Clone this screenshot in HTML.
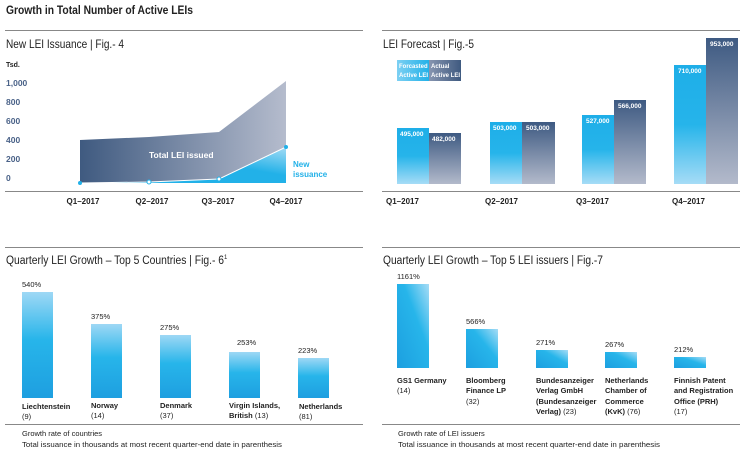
<!DOCTYPE html>
<html><head><meta charset="utf-8"><style>
body{margin:0;width:750px;height:457px;background:#fff;overflow:hidden}
svg{display:block;font-family:"Liberation Sans",sans-serif}
.b{font-weight:bold}
</style></head><body>
<svg width="750" height="457" viewBox="0 0 750 457">
<defs>
<linearGradient id="dark" x1="0" y1="0" x2="1" y2="0"><stop offset="0" stop-color="#3f5a80"/><stop offset="1" stop-color="#b5bccd"/></linearGradient>
<linearGradient id="newg" x1="0" y1="1" x2="1" y2="0"><stop offset="0.6" stop-color="#22b1e8"/><stop offset="1" stop-color="#a4dcf5"/></linearGradient>
<linearGradient id="fc" x1="0" y1="0" x2="0" y2="1"><stop offset="0" stop-color="#1eaee8"/><stop offset="0.5" stop-color="#26b4ea"/><stop offset="1" stop-color="#a6dcf6"/></linearGradient>
<linearGradient id="ac" x1="0" y1="0" x2="0" y2="1"><stop offset="0" stop-color="#3e5a82"/><stop offset="1" stop-color="#b3bacb"/></linearGradient>
<linearGradient id="cb" x1="0" y1="0" x2="0" y2="1"><stop offset="0" stop-color="#9ed8f5"/><stop offset="0.45" stop-color="#27b5ea"/><stop offset="1" stop-color="#1e9fe0"/></linearGradient>
<linearGradient id="ib" x1="0" y1="1" x2="1" y2="0"><stop offset="0" stop-color="#1c9fe0"/><stop offset="0.6" stop-color="#27b5ea"/><stop offset="1" stop-color="#a6dcf6"/></linearGradient>
<linearGradient id="lg" x1="0" y1="0" x2="1" y2="0"><stop offset="0" stop-color="#7dd0f3"/><stop offset="0.5" stop-color="#22b1e8"/><stop offset="0.5" stop-color="#8795b0"/><stop offset="1" stop-color="#3f5a80"/></linearGradient>
</defs>
<text x="6" y="14" class="b" font-size="11.5" fill="#222" textLength="187" lengthAdjust="spacingAndGlyphs">Growth in Total Number of Active LEIs</text>
<g stroke="#888" stroke-width="1">
<line x1="5" y1="30.5" x2="363" y2="30.5"/><line x1="382" y1="30.5" x2="740" y2="30.5"/>
<line x1="5" y1="191.5" x2="363" y2="191.5"/><line x1="382" y1="191.5" x2="740" y2="191.5"/>
<line x1="5" y1="247.5" x2="363" y2="247.5"/><line x1="382" y1="247.5" x2="740" y2="247.5"/>
<line x1="5" y1="424.5" x2="363" y2="424.5"/><line x1="382" y1="424.5" x2="740" y2="424.5"/>
</g>
<text x="6" y="48" font-size="12" fill="#222" textLength="118" lengthAdjust="spacingAndGlyphs">New LEI Issuance  |  Fig.- 4</text>
<text x="6" y="67" class="b" font-size="7" fill="#222">Tsd.</text>
<g class="b" font-size="8.5" fill="#4a6288">
<text x="6" y="86">1,000</text><text x="6" y="105">800</text><text x="6" y="124">600</text><text x="6" y="143">400</text><text x="6" y="162">200</text><text x="6" y="181">0</text></g>
<polygon points="80,140 149,137 219,132 286,81 286,183 80,183" fill="url(#dark)"/>
<polygon points="80,183 149,182 219,179 286,147 286,183" fill="url(#newg)"/>
<polyline points="80,183 149,182 219,179 286,147" fill="none" stroke="#fff" stroke-width="1"/>
<g fill="#fff" stroke="#22b1e8" stroke-width="1"><circle cx="149" cy="182" r="2"/><circle cx="219" cy="179" r="2"/></g>
<circle cx="80" cy="183" r="2" fill="#22b1e8"/><circle cx="286" cy="147" r="2" fill="#22b1e8"/>
<text x="149" y="158" class="b" font-size="8.5" fill="#fff">Total LEI issued</text>
<text x="293" y="167" class="b" font-size="8" fill="#22b1e8">New</text>
<text x="293" y="177" class="b" font-size="8" fill="#22b1e8">issuance</text>
<g class="b" font-size="8" fill="#222" text-anchor="middle">
<text x="83" y="204">Q1–2017</text><text x="152" y="204">Q2–2017</text><text x="218" y="204">Q3–2017</text><text x="286" y="204">Q4–2017</text></g>

<text x="383" y="48" font-size="12" fill="#222" textLength="91" lengthAdjust="spacingAndGlyphs">LEI Forecast  |  Fig.-5</text>
<rect x="397" y="60" width="64" height="21" fill="url(#lg)"/>
<g class="b" font-size="6" fill="#fff"><text x="399" y="68">Forcasted</text><text x="399" y="77">Active LEI</text><text x="431" y="68">Actual</text><text x="431" y="77">Active  LEI</text></g>
<g fill="url(#fc)"><rect x="397" y="128" width="32" height="56"/><rect x="490" y="122" width="32" height="62"/><rect x="582" y="115" width="32" height="69"/><rect x="674" y="65" width="32" height="119"/></g>
<g fill="url(#ac)"><rect x="429" y="133" width="32" height="51"/><rect x="522" y="122" width="33" height="62"/><rect x="614" y="100" width="32" height="84"/><rect x="706" y="38" width="32" height="146"/></g>
<g class="b" font-size="6.5" fill="#fff">
<text x="400" y="136">495,000</text><text x="432" y="141">482,000</text>
<text x="493" y="130">503,000</text><text x="526" y="130">503,000</text>
<text x="586" y="123">527,000</text><text x="618" y="108">566,000</text>
<text x="678" y="73">710,000</text><text x="710" y="46">953,000</text></g>
<g class="b" font-size="8" fill="#222">
<text x="386" y="204">Q1–2017</text><text x="485" y="204">Q2–2017</text><text x="576" y="204">Q3–2017</text><text x="672" y="204">Q4–2017</text></g>

<text x="6" y="264" font-size="11.5" fill="#222"><tspan textLength="218" lengthAdjust="spacingAndGlyphs">Quarterly LEI Growth – Top 5 Countries  |  Fig.- 6</tspan><tspan font-size="6" dy="-5">1</tspan></text>
<g fill="url(#cb)"><rect x="22" y="292" width="31" height="106"/><rect x="91" y="324" width="31" height="74"/><rect x="160" y="335" width="31" height="63"/><rect x="229" y="352" width="31" height="46"/><rect x="298" y="358" width="31" height="40"/></g>
<g font-size="7.5" fill="#222"><text x="22" y="287">540%</text><text x="91" y="319">375%</text><text x="160" y="330">275%</text><text x="237" y="345">253%</text><text x="298" y="353">223%</text></g>
<g font-size="7.5" fill="#222">
<text x="22" y="409" class="b">Liechtenstein</text><text x="22" y="419">(9)</text>
<text x="91" y="408" class="b">Norway</text><text x="91" y="418">(14)</text>
<text x="160" y="408" class="b">Denmark</text><text x="160" y="418">(37)</text>
<text x="229" y="408" class="b">Virgin Islands,</text><text x="229" y="418"><tspan class="b">British</tspan> (13)</text>
<text x="299" y="409" class="b">Netherlands</text><text x="299" y="419">(81)</text>
<text x="22" y="436">Growth rate of countries</text>
<text x="22" y="447" textLength="260" lengthAdjust="spacingAndGlyphs">Total issuance in thousands at most recent quarter-end date in parenthesis</text></g>

<text x="383" y="264" font-size="11.5" fill="#222" textLength="220" lengthAdjust="spacingAndGlyphs">Quarterly LEI Growth – Top 5 LEI issuers  |  Fig.-7</text>
<g fill="url(#ib)"><rect x="397" y="284" width="32" height="84"/><rect x="466" y="329" width="32" height="39"/><rect x="536" y="350" width="32" height="18"/><rect x="605" y="352" width="32" height="16"/><rect x="674" y="357" width="32" height="11"/></g>
<g font-size="7.5" fill="#222"><text x="397" y="279">1161%</text><text x="466" y="324">566%</text><text x="536" y="345">271%</text><text x="605" y="347">267%</text><text x="674" y="352">212%</text></g>
<g font-size="7.5" fill="#222">
<text x="397" y="383" class="b">GS1 Germany</text><text x="397" y="393">(14)</text>
<text x="466" y="383" class="b">Bloomberg</text><text x="466" y="393" class="b">Finance LP</text><text x="466" y="404">(32)</text>
<text x="536" y="383" class="b">Bundesanzeiger</text><text x="536" y="393" class="b">Verlag GmbH</text><text x="536" y="404" class="b">(Bundesanzeiger</text><text x="536" y="414"><tspan class="b">Verlag)</tspan> (23)</text>
<text x="605" y="383" class="b">Netherlands</text><text x="605" y="393" class="b">Chamber of</text><text x="605" y="404" class="b">Commerce</text><text x="605" y="414"><tspan class="b">(KvK)</tspan> (76)</text>
<text x="674" y="383" class="b">Finnish Patent</text><text x="674" y="393" class="b">and Registration</text><text x="674" y="404" class="b">Office (PRH)</text><text x="674" y="414">(17)</text>
<text x="398" y="436">Growth rate of LEI issuers</text>
<text x="398" y="447" textLength="262" lengthAdjust="spacingAndGlyphs">Total issuance in thousands at most recent quarter-end date in parenthesis</text></g>
</svg>
</body></html>
